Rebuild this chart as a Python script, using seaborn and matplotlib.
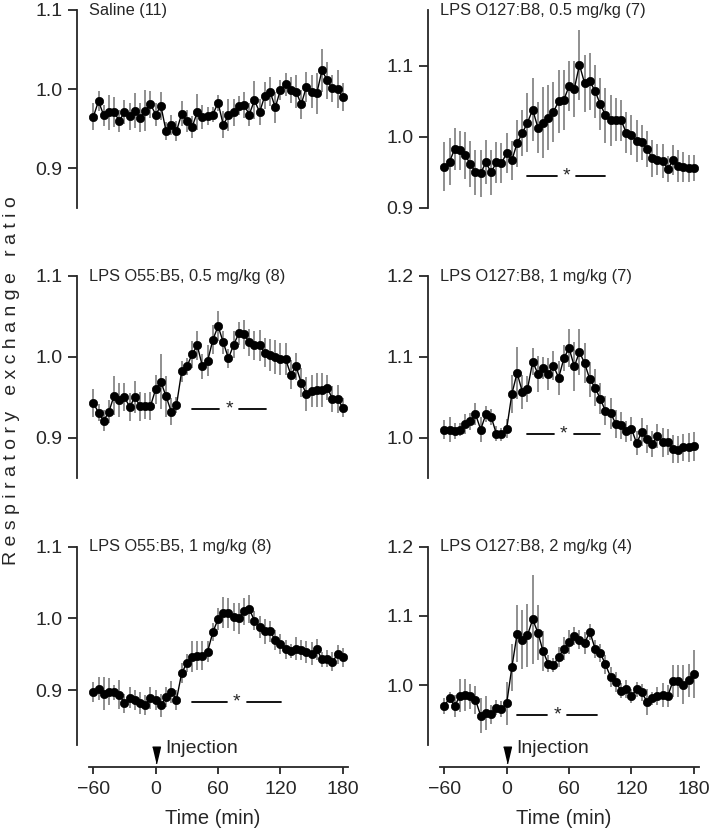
import numpy as np
import pandas as pd
import matplotlib
matplotlib.use('Agg')
import matplotlib.pyplot as plt
import matplotlib.transforms as mtrans
import seaborn as sns

# tiempo (min) respecto a la inyeccion, un punto cada 5 min
time_min = np.arange(-60, 185, 5)

titles = ['Saline (11)', 'LPS O127:B8, 0.5 mg/kg (7)',
          'LPS O55:B5, 0.5 mg/kg (8)', 'LPS O127:B8, 1 mg/kg (7)',
          'LPS O55:B5, 1 mg/kg (8)', 'LPS O127:B8, 2 mg/kg (4)']

saline_mean = [0.965, 0.985, 0.967, 0.971, 0.971, 0.960, 0.971, 0.966, 0.973, 0.964,
               0.973, 0.981, 0.968, 0.979, 0.947, 0.955, 0.947, 0.969, 0.960, 0.952,
               0.971, 0.965, 0.966, 0.968, 0.983, 0.955, 0.967, 0.971, 0.979, 0.980,
               0.968, 0.986, 0.971, 0.992, 0.997, 0.977, 0.999, 1.006, 0.999, 0.997,
               0.981, 1.003, 0.997, 0.995, 1.024, 1.011, 1.001, 1.000, 0.990]
saline_sem = [0.017, 0.013, 0.013, 0.022, 0.019, 0.014, 0.015, 0.017, 0.022, 0.018,
              0.026, 0.017, 0.014, 0.018, 0.011, 0.013, 0.013, 0.016, 0.014, 0.014,
              0.023, 0.015, 0.011, 0.010, 0.010, 0.017, 0.020, 0.017, 0.012, 0.016,
              0.015, 0.024, 0.016, 0.017, 0.018, 0.020, 0.013, 0.015, 0.016, 0.021,
              0.018, 0.019, 0.021, 0.026, 0.027, 0.023, 0.017, 0.024, 0.018]

o127_05_mean = [0.958, 0.965, 0.983, 0.981, 0.974, 0.962, 0.950, 0.949, 0.964, 0.950,
                0.964, 0.963, 0.977, 0.967, 0.991, 1.005, 1.020, 1.038, 1.013, 1.020,
                1.027, 1.035, 1.050, 1.052, 1.071, 1.067, 1.101, 1.075, 1.078, 1.064,
                1.046, 1.030, 1.023, 1.024, 1.023, 1.006, 1.002, 0.994, 0.992, 0.983,
                0.970, 0.968, 0.966, 0.955, 0.967, 0.959, 0.957, 0.956, 0.956]
o127_05_sem = [0.034, 0.033, 0.030, 0.027, 0.033, 0.032, 0.032, 0.033, 0.031, 0.032,
               0.029, 0.028, 0.028, 0.027, 0.033, 0.032, 0.041, 0.044, 0.036, 0.050,
               0.045, 0.042, 0.044, 0.042, 0.035, 0.039, 0.049, 0.040, 0.040, 0.037,
               0.036, 0.039, 0.036, 0.030, 0.029, 0.029, 0.028, 0.029, 0.025, 0.025,
               0.026, 0.022, 0.024, 0.018, 0.021, 0.022, 0.021, 0.019, 0.018]

o55_05_mean = [0.943, 0.931, 0.921, 0.932, 0.952, 0.947, 0.950, 0.938, 0.950, 0.939,
               0.939, 0.939, 0.960, 0.969, 0.951, 0.932, 0.940, 0.982, 0.988, 1.003,
               1.014, 0.988, 0.995, 1.021, 1.038, 1.018, 0.998, 1.015, 1.029, 1.028,
               1.018, 1.014, 1.014, 1.005, 1.002, 1.000, 0.997, 0.997, 0.978, 0.988,
               0.968, 0.954, 0.958, 0.959, 0.959, 0.962, 0.948, 0.948, 0.937]
o55_05_sem = [0.017, 0.010, 0.013, 0.014, 0.024, 0.021, 0.017, 0.017, 0.020, 0.018,
              0.016, 0.017, 0.018, 0.034, 0.025, 0.017, 0.010, 0.013, 0.011, 0.017,
              0.018, 0.015, 0.019, 0.018, 0.019, 0.014, 0.012, 0.017, 0.014, 0.018,
              0.017, 0.018, 0.019, 0.018, 0.020, 0.021, 0.020, 0.020, 0.018, 0.017,
              0.018, 0.021, 0.020, 0.021, 0.021, 0.016, 0.016, 0.017, 0.012]

o127_1_mean = [1.010, 1.010, 1.008, 1.010, 1.017, 1.020, 1.029, 1.010, 1.029, 1.026,
               1.005, 1.004, 1.011, 1.054, 1.080, 1.057, 1.060, 1.094, 1.079, 1.086,
               1.079, 1.089, 1.074, 1.098, 1.111, 1.088, 1.106, 1.092, 1.072, 1.062,
               1.048, 1.033, 1.030, 1.017, 1.015, 1.008, 1.011, 0.993, 1.007, 0.998,
               0.992, 1.002, 0.994, 0.995, 0.986, 0.985, 0.988, 0.988, 0.989]
o127_1_sem = [0.012, 0.016, 0.010, 0.008, 0.012, 0.011, 0.014, 0.016, 0.010, 0.010,
              0.009, 0.008, 0.012, 0.024, 0.032, 0.021, 0.016, 0.017, 0.022, 0.014,
              0.020, 0.018, 0.021, 0.016, 0.024, 0.030, 0.029, 0.025, 0.022, 0.023,
              0.019, 0.018, 0.019, 0.017, 0.017, 0.013, 0.015, 0.015, 0.017, 0.017,
              0.016, 0.015, 0.018, 0.016, 0.017, 0.017, 0.017, 0.018, 0.018]

o55_1_mean = [0.898, 0.902, 0.895, 0.898, 0.897, 0.894, 0.882, 0.890, 0.887, 0.882,
              0.880, 0.889, 0.886, 0.879, 0.891, 0.898, 0.887, 0.924, 0.938, 0.947,
              0.948, 0.948, 0.954, 0.981, 0.999, 1.008, 1.008, 1.002, 1.000, 1.010,
              1.013, 0.997, 0.988, 0.982, 0.982, 0.970, 0.965, 0.957, 0.955, 0.958,
              0.956, 0.953, 0.951, 0.957, 0.943, 0.944, 0.940, 0.950, 0.946]
o55_1_sem = [0.014, 0.016, 0.023, 0.019, 0.010, 0.020, 0.013, 0.015, 0.014, 0.015,
             0.014, 0.015, 0.014, 0.016, 0.014, 0.015, 0.014, 0.014, 0.013, 0.021,
             0.020, 0.020, 0.014, 0.012, 0.015, 0.022, 0.021, 0.020, 0.021, 0.019,
             0.019, 0.013, 0.015, 0.017, 0.015, 0.014, 0.014, 0.013, 0.010, 0.016,
             0.014, 0.015, 0.016, 0.015, 0.010, 0.012, 0.013, 0.013, 0.013]

o127_2_mean = [0.970, 0.982, 0.970, 0.985, 0.986, 0.984, 0.979, 0.956, 0.960, 0.958,
               0.968, 0.966, 0.974, 1.026, 1.074, 1.066, 1.072, 1.095, 1.076, 1.049,
               1.031, 1.029, 1.041, 1.053, 1.062, 1.071, 1.066, 1.061, 1.077, 1.053,
               1.047, 1.030, 1.012, 1.005, 0.992, 0.995, 0.985, 0.994, 0.990, 0.976,
               0.981, 0.984, 0.986, 0.985, 1.006, 1.006, 1.001, 1.007, 1.016]
o127_2_sem = [0.011, 0.008, 0.016, 0.024, 0.023, 0.018, 0.020, 0.025, 0.024, 0.014,
              0.011, 0.012, 0.031, 0.034, 0.041, 0.042, 0.045, 0.064, 0.040, 0.029,
              0.012, 0.010, 0.014, 0.017, 0.017, 0.013, 0.013, 0.016, 0.012, 0.013,
              0.013, 0.014, 0.014, 0.014, 0.011, 0.013, 0.010, 0.011, 0.012, 0.019,
              0.010, 0.013, 0.017, 0.016, 0.023, 0.023, 0.028, 0.024, 0.035]

means = [saline_mean, o127_05_mean, o55_05_mean, o127_1_mean, o55_1_mean, o127_2_mean]
sems = [saline_sem, o127_05_sem, o55_05_sem, o127_1_sem, o55_1_sem, o127_2_sem]

# barras de significancia (inicio, fin, altura)
sig_bars = [None, (20, 95, 0.945), (35, 106, 0.935), (20, 90, 1.005),
            (35, 121, 0.884), (10, 87, 0.957)]

ylims = [(0.85, 1.1), (0.9, 1.178), (0.85, 1.1), (0.95, 1.2), (0.824, 1.1), (0.914, 1.2)]
yticks = [[0.9, 1.0, 1.1], [0.9, 1.0, 1.1], [0.9, 1.0, 1.1],
          [1.0, 1.1, 1.2], [0.9, 1.0, 1.1], [1.0, 1.1, 1.2]]

sns.set_style('ticks')
plt.rcParams['font.family'] = ['Liberation Sans', 'DejaVu Sans']

W, H = 709, 834
fig = plt.figure(figsize=(W / 100, H / 100), dpi=100)

col_left = [77.3, 428.3]
col_width = 270.7
row_box = [(10, 208), (276, 478), (546.5, 745)]

tri = [(-0.47, 1.0), (0.47, 1.0), (0.0, -1.0)]

for i in range(6):
    r, c = divmod(i, 2)
    top, bot = row_box[r]
    ax = fig.add_axes([col_left[c] / W, 1 - bot / H, col_width / W, (bot - top) / H])
    df = pd.DataFrame({'time': time_min, 'rer': means[i], 'sem': sems[i]})

    ax.errorbar(df['time'], df['rer'], yerr=df['sem'], fmt='none',
                ecolor='#7d7d7d', elinewidth=1.2, capsize=0, zorder=1)
    sns.lineplot(data=df, x='time', y='rer', ax=ax, color='black', lw=1,
                 marker='o', markersize=6, markeredgecolor='black',
                 markeredgewidth=0.5, zorder=2)

    ax.set_xlim(-75.4, 185)
    ax.set_ylim(*ylims[i])
    ax.set_yticks(yticks[i])
    ax.set_yticklabels([f'{t:.1f}' for t in yticks[i]])
    ax.set_ylabel('')
    ax.tick_params(axis='y', direction='out', length=6.5, width=1.3, labelsize=14, pad=4)
    for s in ['top', 'right']:
        ax.spines[s].set_visible(False)
    ax.spines['left'].set_linewidth(1.3)

    ax.text(0.045, 1.0, titles[i], transform=ax.transAxes, ha='left', va='center',
            fontsize=11.8)

    if sig_bars[i] is not None:
        x0, x1, yb = sig_bars[i]
        mid = (x0 + x1) / 2
        ax.plot([x0, mid - 9.5], [yb, yb], color='black', lw=1.3)
        ax.plot([mid + 9.5, x1], [yb, yb], color='black', lw=1.3)
        ax.text(mid, yb, '*', ha='center', va='center', fontsize=14)

    if r < 2:
        ax.spines['bottom'].set_visible(False)
        ax.set_xticks([])
        ax.set_xlabel('')
    else:
        ax.spines['bottom'].set_position(('outward', 16))
        ax.spines['bottom'].set_bounds(-64, 185)
        ax.spines['bottom'].set_linewidth(1.3)
        ax.set_xticks([-60, 0, 60, 120, 180])
        ax.set_xticklabels(['\u221260', '0', '60', '120', '180'])
        ax.tick_params(axis='x', direction='out', length=5, width=1.3, labelsize=14, pad=5)
        ax.set_xlabel('Time (min)', fontsize=14.5, labelpad=8)
        trans = mtrans.blended_transform_factory(ax.transData, ax.transAxes)
        ax.plot([0], [-0.05], transform=trans, marker=tri, markersize=12,
                color='black', clip_on=False, linestyle='none')
        ax.text(9, -0.02, 'Injection', transform=trans, ha='left', va='center',
                fontsize=14)

ylab = '   '.join(' '.join(w) for w in 'Respiratory exchange ratio'.split())
fig.text(0.016, 0.544, ylab, rotation=90, ha='center', va='center', fontsize=14)

fig.savefig('out.png', dpi=100)
